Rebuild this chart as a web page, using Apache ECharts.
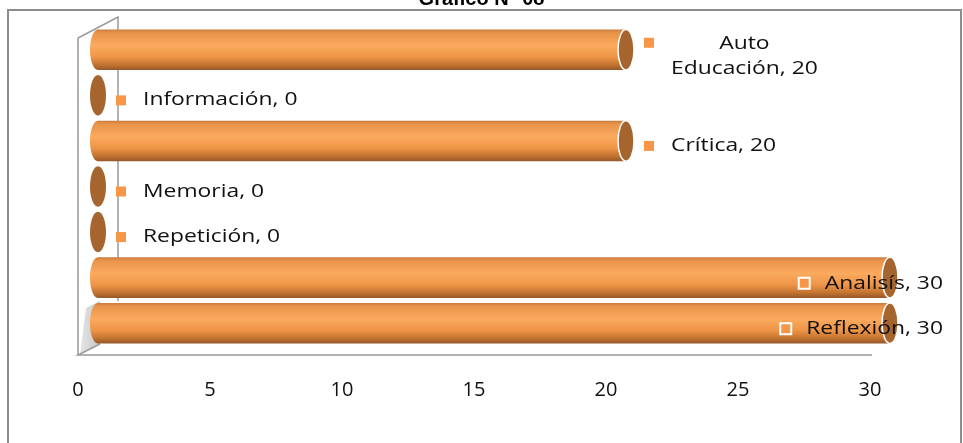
<!DOCTYPE html>
<html>
<head>
<meta charset="utf-8">
<script src="https://cdn.jsdelivr.net/npm/echarts@6/dist/echarts.min.js"></script>
<style>
html,body{margin:0;padding:0;background:#fff;}
#c{width:963px;height:443px;}
</style>
</head>
<body>
<div id="c"></div>
<script>
// ---- data (bottom to top) ----
const categories = ['Reflexión', 'Analisís', 'Repetición', 'Memoria', 'Crítica', 'Información', 'Auto Educación'];
const values = [30, 30, 0, 0, 20, 0, 20];
const titleText = 'Gráfico N° 08';
const axisMin = 0, axisMax = 30, axisInterval = 5;

// ---- style constants ----
const FONT = '"Open Sans", "DejaVu Sans", sans-serif';
const LABEL_SIZE = 18;
const SX = 1.27;         // horizontal stretch of data labels
const DX = 20;           // 3D depth offset of the bars
const RX = 8;            // ellipse half width of the caps
const MAXW = 165;        // max label width before wrapping

const mctx = document.createElement('canvas').getContext('2d');
function tw(t) { mctx.font = LABEL_SIZE + 'px ' + FONT; return mctx.measureText(t).width * SX; }

const bodyGrad = {
  type: 'linear', x: 0, y: 0, x2: 0, y2: 1,
  colorStops: [
    { offset: 0, color: '#C97B3E' },
    { offset: 0.08, color: '#E8934A' },
    { offset: 0.4, color: '#FBAA5E' },
    { offset: 0.68, color: '#EE9446' },
    { offset: 0.88, color: '#C0722F' },
    { offset: 1, color: '#95572A' }
  ]
};

function renderItem(params, api) {
  const val = api.value(0), cat = api.value(1);
  const p0 = api.coord([0, cat]);
  const p1 = api.coord([val, cat]);
  const h = api.size([0, 1])[1] * 0.89;
  const cy = p0[1];
  const xs = p0[0] + DX, xe = p1[0] + DX;
  const W = api.getWidth();
  const ch = [];
  if (val > 0) {
    ch.push({ type: 'ellipse', shape: { cx: xs, cy: cy, rx: RX, ry: h / 2 }, style: { fill: bodyGrad } });
    ch.push({ type: 'rect', shape: { x: xs, y: cy - h / 2, width: xe - xs, height: h }, style: { fill: bodyGrad } });
  }
  ch.push({ type: 'ellipse', shape: { cx: xe, cy: cy, rx: RX, ry: h / 2 },
    style: { fill: '#A6652F', stroke: val > 0 ? '#ffffff' : null, lineWidth: 1.5 } });

  const label = categories[params.dataIndex] + ', ' + val;
  const lw = tw(label);
  const txtStyle = (text, align) => ({ text: text, x: 0, y: 0, fontSize: LABEL_SIZE, fontFamily: FONT,
    fill: '#111111', align: align, verticalAlign: 'middle', lineHeight: 25 });
  let tx = xe + 45;
  if (lw > MAXW) {
    const k = label.indexOf(' ');
    const l1 = label.slice(0, k), l2 = label.slice(k + 1);
    const mw = Math.max(tw(l1), tw(l2));
    ch.push({ type: 'rect', shape: { x: xe + 18, y: cy - 12, width: 10, height: 10 }, style: { fill: '#F79646' } });
    ch.push({ type: 'text', x: tx + mw / 2, y: cy + 7, scaleX: SX, style: txtStyle(l1 + '\n' + l2, 'center') });
  } else if (tx + lw > W - 10) {
    const right = W - 20;
    ch.push({ type: 'rect', shape: { x: right - lw - 26, y: cy + 0, width: 11, height: 11 },
      style: { fill: '#F79646', stroke: '#ffffff', lineWidth: 2 } });
    ch.push({ type: 'text', x: right, y: cy + 6, scaleX: SX, style: txtStyle(label, 'right') });
  } else {
    ch.push({ type: 'rect', shape: { x: xe + 18, y: cy, width: 10, height: 10 }, style: { fill: '#F79646' } });
    ch.push({ type: 'text', x: tx, y: cy + 5, scaleX: SX, style: txtStyle(label, 'left') });
  }
  return { type: 'group', children: ch };
}

const chart = echarts.init(document.getElementById('c'), null, { renderer: 'canvas' });
chart.setOption({
  animation: false,
  backgroundColor: '#ffffff',
  grid: { left: 78, right: 93, top: 27, bottom: 97 },
  xAxis: {
    type: 'value', min: axisMin, max: axisMax, interval: axisInterval,
    axisLine: { show: false }, axisTick: { show: false }, splitLine: { show: false },
    axisLabel: { fontSize: 20, fontFamily: FONT, color: '#111111', margin: 34 }
  },
  yAxis: {
    type: 'category', data: categories,
    axisLine: { show: false }, axisTick: { show: false }, axisLabel: { show: false }, splitLine: { show: false }
  },
  series: [{
    type: 'custom', renderItem: renderItem, clip: false, z: 5,
    encode: { x: 0, y: 1 },
    data: values.map((v, i) => [v, i])
  }]
});

// ---- frame decoration, positioned from the axes ----
const X0 = chart.convertToPixel({ gridIndex: 0 }, [axisMin, 0])[0];
const XM = chart.convertToPixel({ gridIndex: 0 }, [axisMax, 0])[0];
const yc0 = chart.convertToPixel({ gridIndex: 0 }, [0, 0])[1];
const yc1 = chart.convertToPixel({ gridIndex: 0 }, [0, 1])[1];
const yTop = chart.convertToPixel({ gridIndex: 0 }, [0, categories.length - 1])[1] - (yc0 - yc1) / 2;
const yBot = yc0 + (yc0 - yc1) / 2;
const W = chart.getWidth();
const frame = { stroke: '#9a9a9a', lineWidth: 1.5 };
chart.setOption({
  graphic: [
    { type: 'rect', z: 0, shape: { x: 8, y: 10, width: W - 10, height: 460 }, style: { fill: null, stroke: '#8c8c8c', lineWidth: 2 } },
    { type: 'text', z: 0, x: W / 2, y: 9, style: { text: titleText, fontSize: 20, fontWeight: 'bold', fontFamily: '"Liberation Sans", Arial, sans-serif', fill: '#000', align: 'center', verticalAlign: 'bottom' } },
    { type: 'polygon', z: 0, shape: { points: [[X0 + 2, yBot + 8], [X0 + 22, yBot - 2], [X0 + 22, yBot - 45], [X0 + 8, yBot - 38]] },
      style: { fill: { type: 'linear', x: 0, y: 0, x2: 1, y2: 0, colorStops: [{ offset: 0, color: '#e4e4e4' }, { offset: 1, color: '#c8c8c8' }] } } },
    { type: 'polyline', z: 0, shape: { points: [[X0, yBot + 9], [X0, yTop + 11], [X0 + 40, yTop - 10], [X0 + 40, yBot - 45]] }, style: frame },
    { type: 'polyline', z: 0, shape: { points: [[XM + 2, yBot + 9], [X0, yBot + 9], [X0 + 22, yBot - 2]] }, style: frame }
  ]
});
</script>
</body>
</html>
